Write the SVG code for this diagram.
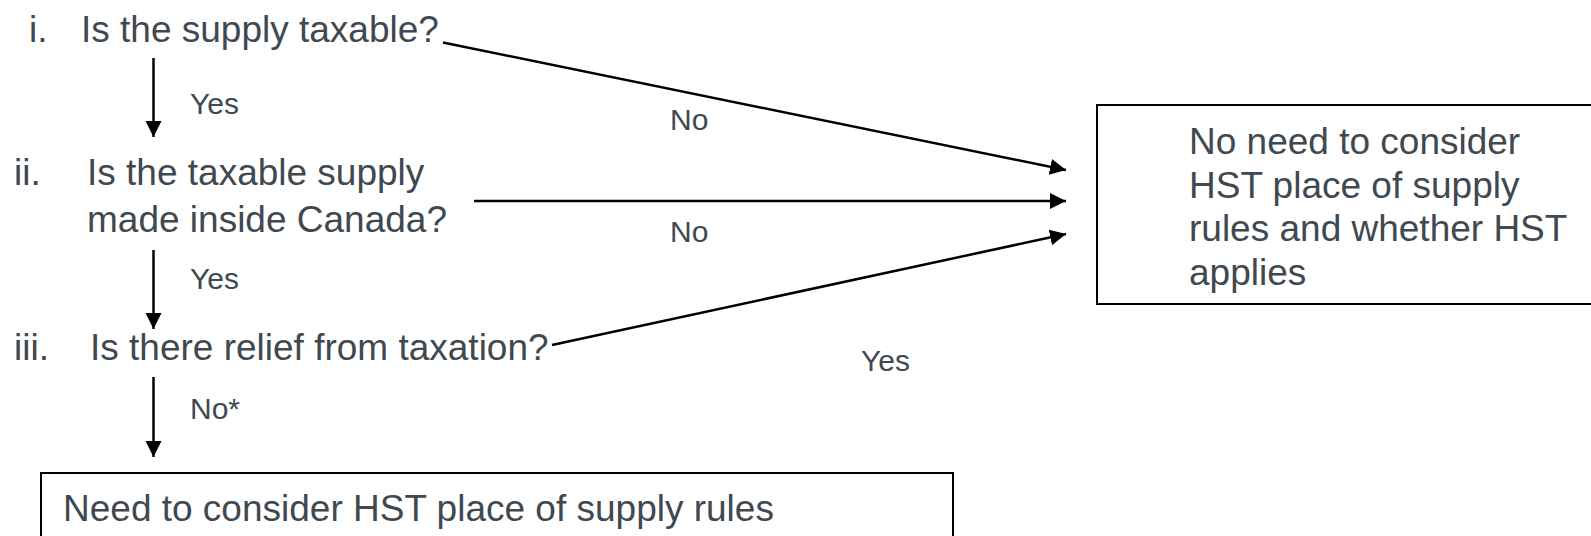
<svg xmlns="http://www.w3.org/2000/svg" width="1591" height="536" viewBox="0 0 1591 536">
<defs>
<marker id="ah" markerUnits="userSpaceOnUse" markerWidth="18" markerHeight="18" refX="16" refY="8" orient="auto">
<path d="M0,0 L16,8 L0,16 z" fill="#000"/>
</marker>
<style>
.t{font-family:"Liberation Sans",Arial,sans-serif;font-size:37px;fill:#404850}
.l{font-family:"Liberation Sans",Arial,sans-serif;font-size:30px;fill:#404850}
.c{stroke:#000;stroke-width:2.5;fill:none;marker-end:url(#ah)}
.b{fill:#fff;stroke:#000;stroke-width:2}
</style>
</defs>
<rect width="1591" height="536" fill="#fff"/>
<g id="q1">
<text class="t" x="29" y="42">i.</text>
<text class="t" x="81" y="42">Is the supply taxable?</text>
</g>
<g id="q2">
<text class="t" x="14" y="185">ii.</text>
<text class="t" x="87" y="185">Is the taxable supply</text>
<text class="t" x="87" y="232">made inside Canada?</text>
</g>
<g id="q3">
<text class="t" x="14" y="360">iii.</text>
<text class="t" x="90" y="360">Is there relief from taxation?</text>
</g>
<g id="outcome-no">
<rect class="b" x="1097" y="105" width="500" height="199"/>
<text class="t" x="1189" y="154">No need to consider</text>
<text class="t" x="1189" y="197.5">HST place of supply</text>
<text class="t" x="1189" y="241">rules and whether HST</text>
<text class="t" x="1189" y="284.5">applies</text>
</g>
<g id="outcome-yes">
<rect class="b" x="41" y="473" width="912" height="80"/>
<text class="t" x="63" y="521">Need to consider HST place of supply rules</text>
</g>
<g id="connectors">
<line class="c" x1="153.5" y1="58" x2="153.5" y2="137"/>
<line class="c" x1="153.5" y1="250" x2="153.5" y2="329"/>
<line class="c" x1="153.5" y1="377" x2="153.5" y2="457"/>
<line class="c" x1="443" y1="42.5" x2="1066" y2="170"/>
<line class="c" x1="474" y1="201" x2="1066" y2="201"/>
<line class="c" x1="552" y1="345" x2="1066" y2="234"/>
<text class="l" x="190" y="114">Yes</text>
<text class="l" x="190" y="289">Yes</text>
<text class="l" x="190" y="419">No*</text>
<text class="l" x="670" y="130">No</text>
<text class="l" x="670" y="242">No</text>
<text class="l" x="861" y="371">Yes</text>
</g>
</svg>
